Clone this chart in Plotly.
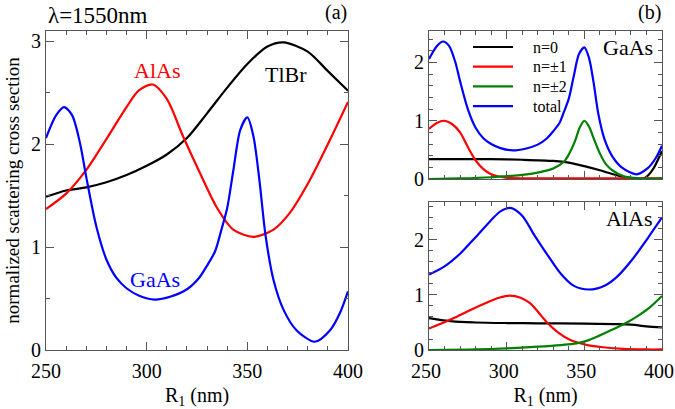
import plotly.graph_objects as go

# ---- panel (a): total normalized scattering cross section vs R1
r_tlbr = [250, 260, 270, 280, 290, 300, 310, 320, 330, 340, 350, 360, 368, 380, 390, 400]
v_tlbr = [1.49, 1.55, 1.58, 1.63, 1.70, 1.79, 1.90, 2.06, 2.30, 2.55, 2.78, 2.95, 2.99, 2.90, 2.71, 2.52]

r_alas = [250, 260, 270, 280, 290, 296, 303, 310, 318, 326, 335, 343, 353, 363, 371, 381, 391, 400]
v_alas = [1.37, 1.52, 1.75, 2.05, 2.36, 2.52, 2.58, 2.44, 2.08, 1.74, 1.38, 1.17, 1.10, 1.17, 1.33, 1.65, 2.04, 2.41]

r_gaas = [250, 255, 259, 263, 267, 270, 275, 280, 285, 290, 296, 304, 312, 320, 326, 330, 334, 337, 340,
          343, 346.5, 350, 353, 356, 359, 363, 368, 374.5, 383.5, 391, 396, 400]
v_gaas = [2.06, 2.28, 2.36, 2.28, 2.00, 1.68, 1.20, 0.88, 0.70, 0.60, 0.53, 0.49, 0.52, 0.59, 0.70, 0.82, 0.96, 1.16, 1.38,
          1.74, 2.14, 2.26, 2.08, 1.65, 1.12, 0.68, 0.39, 0.19, 0.08, 0.19, 0.36, 0.57]

# ---- panel (b) top: GaAs partial contributions
r_g_n0 = [250, 270, 290, 310, 330, 340, 350, 360, 370, 379, 385, 388, 391, 394.5, 400]
v_g_n0 = [0.34, 0.34, 0.34, 0.33, 0.31, 0.28, 0.22, 0.15, 0.07, 0.01, 0.0, 0.01, 0.06, 0.18, 0.48]

r_g_n1 = [250, 255, 259.5, 265, 270, 275, 280, 285, 290, 300, 320, 360, 400]
v_g_n1 = [0.86, 0.96, 1.0, 0.94, 0.80, 0.55, 0.32, 0.17, 0.08, 0.02, 0.01, 0.01, 0.01]

r_g_n2 = [250, 270, 290, 300, 310, 320, 330, 337, 340, 344, 347, 350, 353, 356, 360, 364, 368, 375, 385, 400]
v_g_n2 = [0.0, 0.01, 0.03, 0.05, 0.07, 0.11, 0.18, 0.30, 0.42, 0.65, 0.88, 1.0, 0.90, 0.70, 0.44, 0.25, 0.15, 0.05, 0.01, 0.01]

# ---- panel (b) bottom: AlAs partial contributions
r_a_n0 = [250, 265, 280, 300, 320, 350, 370, 380, 390, 400]
v_a_n0 = [0.58, 0.52, 0.50, 0.49, 0.485, 0.48, 0.47, 0.46, 0.43, 0.41]

r_a_n1 = [250, 258, 266, 276, 287, 295, 302, 309, 315, 320, 326, 333, 341, 352, 362, 375, 390, 400]
v_a_n1 = [0.39, 0.48, 0.58, 0.72, 0.86, 0.95, 0.99, 0.95, 0.85, 0.70, 0.50, 0.32, 0.18, 0.09, 0.05, 0.02, 0.01, 0.01]

r_a_n2 = [250, 280, 300, 320, 335, 345, 352, 358, 364, 371, 378, 385, 392, 400]
v_a_n2 = [0.0, 0.01, 0.03, 0.06, 0.09, 0.12, 0.17, 0.24, 0.32, 0.41, 0.51, 0.63, 0.77, 0.98]

legend_names = ["n=0", "n=\u00b11", "n=\u00b12", "total"]
colors = ["black", "#ff0000", "#008000", "#0000ff"]

FONT = "Liberation Serif, Times New Roman, serif"
LW = 2.2
W, H = 675, 409

def px(x):
    return x / W

def py(y):
    return 1 - y / H

fig = go.Figure()

def line(x, y, color, xa, ya):
    fig.add_trace(go.Scatter(x=x, y=y, mode="lines", showlegend=False,
                             line=dict(color=color, width=LW, shape="spline", smoothing=0.8),
                             xaxis=xa, yaxis=ya))

# (a)
line(r_tlbr, v_tlbr, "black", "x", "y")
line(r_alas, v_alas, "#ff0000", "x", "y")
line(r_gaas, v_gaas, "#0000ff", "x", "y")

# (b) top - GaAs
line(r_g_n0, v_g_n0, colors[0], "x2", "y2")
line(r_g_n1, v_g_n1, colors[1], "x2", "y2")
line(r_g_n2, v_g_n2, colors[2], "x2", "y2")
line(r_gaas, v_gaas, colors[3], "x2", "y2")

# (b) bottom - AlAs
line(r_a_n0, v_a_n0, colors[0], "x3", "y3")
line(r_a_n1, v_a_n1, colors[1], "x3", "y3")
line(r_a_n2, v_a_n2, colors[2], "x3", "y3")
line(r_alas, v_alas, colors[3], "x3", "y3")

frame = dict(showline=True, linecolor="#555", linewidth=1, mirror="allticks", ticks="inside",
             ticklen=8, tickcolor="#555", showgrid=False, zeroline=False, automargin=False,
             tickfont=dict(family=FONT, size=20, color="black"))

xa = dict(frame, range=[250, 400], dtick=50, ticklabelstandoff=3,
          minor=dict(dtick=10, ticks="inside", ticklen=4, tickcolor="#555"))

fig.update_layout(
    width=W, height=H, margin=dict(l=0, r=0, t=0, b=0, pad=0),
    plot_bgcolor="white", paper_bgcolor="white",
    font=dict(family=FONT, color="black"),
    xaxis=dict(xa, domain=[px(46), px(348)], anchor="y",
               title=dict(text="R<sub>1</sub> (nm)", font=dict(family=FONT, size=20), standoff=9)),
    yaxis=dict(frame, domain=[py(350), py(31)], range=[0, 3.1], dtick=1, anchor="x",
               minor=dict(dtick=0.5, ticks="inside", ticklen=4, tickcolor="#555"),
               title=dict(text="normalized scattering cross section", font=dict(family=FONT, size=19), standoff=6)),
    xaxis2=dict(xa, domain=[px(429), px(662)], anchor="y2", showticklabels=False),
    yaxis2=dict(frame, domain=[py(179), py(31)], range=[0, 2.54], dtick=1, anchor="x2",
                minor=dict(dtick=0.2, ticks="inside", ticklen=4, tickcolor="#555")),
    xaxis3=dict(xa, domain=[px(429), px(662)], anchor="y3", ticklabelshift=-3,
                title=dict(text="R<sub>1</sub> (nm)", font=dict(family=FONT, size=20), standoff=9)),
    yaxis3=dict(frame, domain=[py(350), py(202)], range=[0, 2.69], dtick=1, anchor="x3",
                minor=dict(dtick=0.2, ticks="inside", ticklen=4, tickcolor="#555")),
)

# wavelength tag, anchored to the left end of panel (a)'s x axis
fig.add_annotation(text="\u03bb=1550nm", x=250, xref="x", y=py(15), yref="paper",
                   xanchor="left", yanchor="middle", showarrow=False,
                   font=dict(family=FONT, size=23, color="black"))

# panel tags and material labels
ann = [
    ("(a)", 336, 13, 20),
    ("(b)", 649, 13, 20),
    ("GaAs", 628, 48, 22),
    ("AlAs", 629, 218, 22),
]
for txt, x, y, size in ann:
    fig.add_annotation(text=txt, x=px(x), y=py(y), xref="paper", yref="paper",
                       xanchor="center", yanchor="middle", showarrow=False,
                       font=dict(family=FONT, size=size, color="black"))

# curve labels in panel (a)
for txt, x, y, c in [("AlAs", 305, 2.72, "#ff0000"), ("TlBr", 369, 2.68, "black"), ("GaAs", 304, 0.69, "#0000ff")]:
    fig.add_annotation(text=txt, x=x, y=y, xref="x", yref="y", showarrow=False,
                       font=dict(family=FONT, size=22, color=c))

# legend of panel (b), drawn as key lines + labels
for i, (name, c) in enumerate(zip(legend_names, colors)):
    yy = 47 + i * 19.7
    fig.add_shape(type="line", xref="paper", yref="paper", x0=px(473), x1=px(513), y0=py(yy), y1=py(yy),
                  line=dict(color=c, width=LW))
    fig.add_annotation(text=name, x=px(531), y=py(yy), xref="paper", yref="paper", xanchor="left",
                       yanchor="middle", showarrow=False, font=dict(family=FONT, size=16, color="black"))

# the page's default body margin would push the 675x409 figure off the window
fig.write_html("out.html", config={"displayModeBar": False},
               post_script="document.body.style.margin='0';document.body.style.overflow='hidden';")
